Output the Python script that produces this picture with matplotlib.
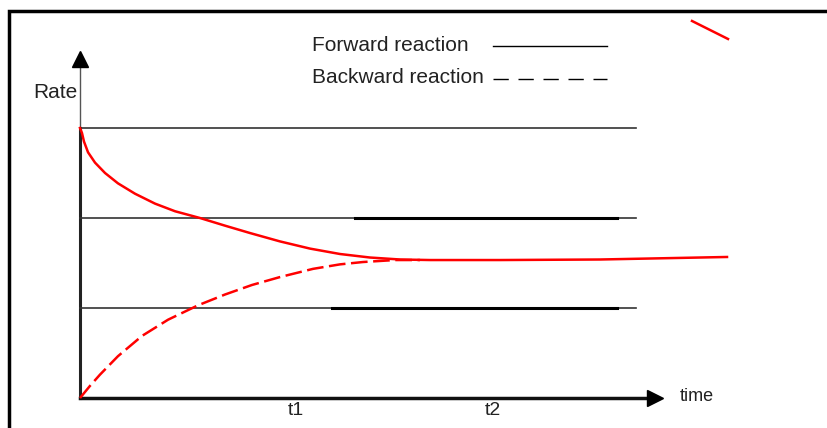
import matplotlib
matplotlib.use('Agg')
import matplotlib.pyplot as plt

plt.rcParams['font.family'] = ['Liberation Sans', 'DejaVu Sans']
plt.rcParams['lines.scale_dashes'] = False

# rate levels drawn as reference lines
levels = [3.0, 2.0, 1.0]
level_end = 6.18
# heavier stretch of the lower two level lines
thick_start = [3.06, 2.8]
thick_end = 5.97

# forward reaction rate
fwd_t = [0, 0.022, 0.044, 0.089, 0.167, 0.278, 0.422, 0.611, 0.833, 1.056, 1.333,
         1.611, 1.889, 2.222, 2.556, 2.889, 3.222, 3.556, 3.889, 4.667, 5.778, 7.189]
fwd_r = [3.0, 2.944, 2.85, 2.73, 2.615, 2.5, 2.385, 2.27, 2.16, 2.075, 2.0,
         1.915, 1.833, 1.74, 1.66, 1.6, 1.561, 1.539, 1.533, 1.533, 1.539, 1.567]

# backward reaction rate
bwd_t = [0, 0.111, 0.222, 0.422, 0.689, 0.978, 1.311, 1.611, 1.911, 2.222,
         2.589, 2.889, 3.144, 3.5, 3.778]
bwd_r = [0, 0.135, 0.26, 0.465, 0.69, 0.87, 1.03, 1.15, 1.256, 1.344,
         1.435, 1.485, 1.511, 1.533, 1.533]

# stray red stroke in the top right corner
stray_t = [6.8, 7.2]
stray_r = [4.189, 3.989]

tick_names = ['t1', 't2']
tick_pos = [2.4, 4.589]

fig = plt.figure(figsize=(8.27, 4.28), dpi=100)
ax = fig.add_axes([0, 0, 1, 1])
ax.set_xlim(-0.889, 8.3)
ax.set_ylim(-0.333, 4.422)
ax.axis('off')

txt = '#222222'

# frame round the picture
ax.plot([0.011, 0.011, 1.0], [0.0, 0.974, 0.974], color='black', lw=2.5,
        transform=ax.transAxes, solid_capstyle='butt', solid_joinstyle='miter')

# axes with arrow heads
ax.plot([0, 0], [3.0, 3.75], color='#555555', lw=1)
ax.plot([0, 0], [0, 3.0], color='#222222', lw=2.2)
ax.plot(0, 3.772, marker='^', color='black', markersize=12)
ax.plot([0, 6.3], [0, 0], color='#111111', lw=2.5)
ax.plot(6.39, 0.0, marker='>', color='black', markersize=12)

# level lines
for y in levels:
    ax.plot([0, level_end], [y, y], color='#333333', lw=1.2)
for y, x0 in zip(levels[1:], thick_start):
    ax.plot([x0, thick_end], [y, y], color='black', lw=2.2)

# reaction curves
ax.plot(fwd_t, fwd_r, color='red', lw=1.8, solid_joinstyle='round')
ax.plot(bwd_t, bwd_r, color='red', lw=1.8, dashes=(12, 4))
ax.plot(stray_t, stray_r, color='red', lw=1.8)

# legend drawn by hand
ax.text(2.578, 3.911, 'Forward reaction', fontsize=15, color=txt, va='center')
ax.plot([4.589, 5.856], [3.911, 3.911], color='black', lw=1)
ax.text(2.578, 3.556, 'Backward reaction', fontsize=15, color=txt, va='center')
ax.plot([4.589, 5.856], [3.544, 3.544], color='black', lw=1, dashes=(11, 7))

ax.text(-0.522, 3.389, 'Rate', fontsize=15, color=txt, va='center')
ax.text(6.667, 0.022, 'time', fontsize=13, color=txt, va='center')
for name, x in zip(tick_names, tick_pos):
    ax.text(x, -0.135, name, fontsize=14, color=txt, ha='center', va='center')

fig.savefig('out.png', dpi=100)
